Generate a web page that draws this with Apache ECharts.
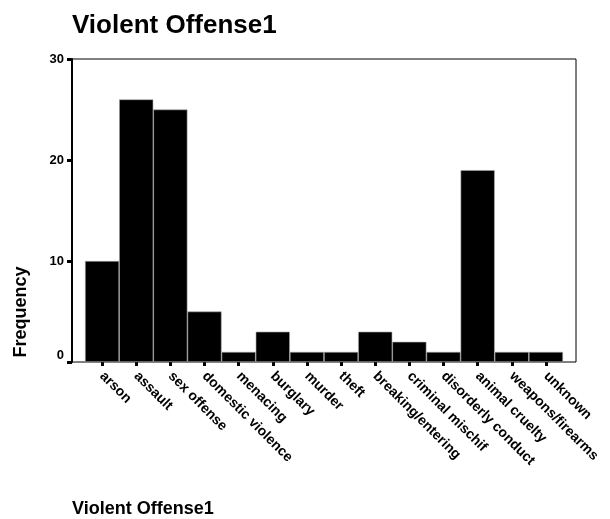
<!DOCTYPE html>
<html><head><meta charset="utf-8">
<script src="https://cdn.jsdelivr.net/npm/echarts@6/dist/echarts.min.js"></script>
<style>html,body{margin:0;padding:0;background:#fff}#c{width:610px;height:519px}</style>
</head><body><div id="c"></div>
<script>
const categories = ["arson","assault","sex offense","domestic violence","menacing","burglary","murder","theft","breaking/entering","criminal mischif","disorderly conduct","animal cruelty","weapons/firearms","unknown"];
const frequency = [10,26,25,5,1,3,1,1,3,2,1,19,1,1];
const yTicks = [0,10,20,30];

const font = "'Liberation Sans', Arial, sans-serif";
const chart = echarts.init(document.getElementById('c'));
chart.setOption({
  animation:false,
  backgroundColor:'#fff',
  title:{text:'Violent Offense1',left:72,top:13,padding:0,textStyle:{fontFamily:font,fontSize:26,fontWeight:'bold',color:'#000'}},
  graphic:[
    {type:'text',left:72,top:500,style:{text:'Violent Offense1',font:"bold 18px 'Liberation Sans', Arial, sans-serif",fill:'#000'}},
    {type:'text',x:21,y:312,rotation:Math.PI/2,style:{text:'Frequency',font:"bold 18px 'Liberation Sans', Arial, sans-serif",fill:'#000',align:'center',verticalAlign:'middle'}}
  ],
  grid:[
    {left:72,right:34,top:59,bottom:157,show:true,borderColor:'#000',borderWidth:1,backgroundColor:'#fff'},
    {left:85,width:478,top:59,bottom:157}
  ],
  xAxis:[
    {gridIndex:0,type:'value',min:0,max:1,show:false},
    {gridIndex:1,type:'category',data:categories,boundaryGap:true,
     axisLine:{show:false},
     axisTick:{show:true,alignWithLabel:true,length:4,lineStyle:{color:'#000',width:3}},
     axisLabel:{rotate:-45,interval:0,margin:12,fontFamily:font,fontSize:14,fontWeight:'bold',color:'#000'}}
  ],
  yAxis:[
    {gridIndex:0,type:'value',min:0,max:30,interval:10,
     axisLine:{show:true,lineStyle:{color:'#000',width:2}},
     axisTick:{show:true,length:5,lineStyle:{color:'#000',width:3}},
     axisLabel:{margin:8,fontFamily:font,fontSize:13,fontWeight:'bold',color:'#000',
       formatter:v=>yTicks.includes(v)?(v===0?'{z|0}':String(v)):'',
       rich:{z:{fontFamily:font,fontSize:13,fontWeight:'bold',color:'#000',padding:[0,0,14,0]}}},
     splitLine:{show:false}},
    {gridIndex:1,type:'value',min:0,max:30,show:false}
  ],
  series:[{type:'bar',xAxisIndex:1,yAxisIndex:1,data:frequency,barCategoryGap:'0%',
    itemStyle:{color:'#000',borderColor:'#aaa',borderWidth:0.6}}]
});
</script></body></html>
